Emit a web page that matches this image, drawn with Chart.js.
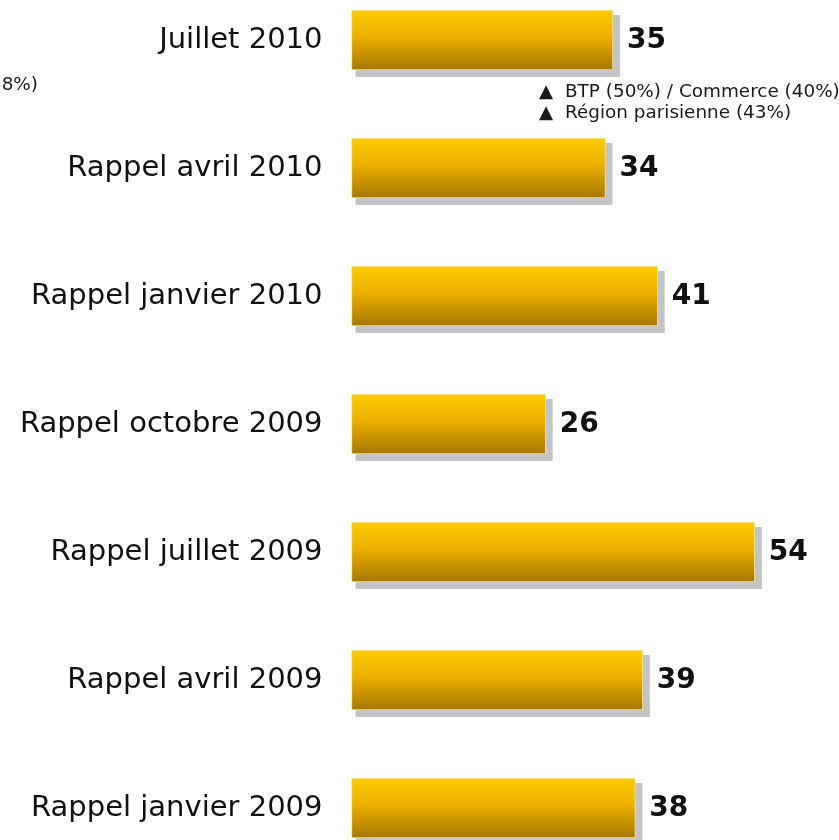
<!DOCTYPE html>
<html>
<head>
<meta charset="utf-8">
<script src="https://cdn.jsdelivr.net/npm/chart.js@4/dist/chart.umd.min.js"></script>
<style>
  body { margin: 0; background: #fff; }
  #wrap { width: 839px; height: 840px; }
</style>
</head>
<body>
<div id="wrap"><canvas id="myChart" width="839" height="840"></canvas></div>
<script>
const categories = [
    'Juillet 2010',
    'Rappel avril 2010',
    'Rappel janvier 2010',
    'Rappel octobre 2009',
    'Rappel juillet 2009',
    'Rappel avril 2009',
    'Rappel janvier 2009'
];
const values = [35, 34, 41, 26, 54, 39, 38];
const notesRight = ['BTP (50%) / Commerce (40%)', 'Région parisienne (43%)'];
const noteLeft = '(38%)';

const FONT = "'DejaVu Sans', Verdana, sans-serif";

// grey drop shadow behind each bar
const shadowPlugin = {
    id: 'barShadow',
    beforeDatasetsDraw(chart) {
        const ctx = chart.ctx;
        const meta = chart.getDatasetMeta(0);
        ctx.save();
        ctx.fillStyle = '#c4c4c4';
        meta.data.forEach((el) => {
            const p = el.getProps(['x', 'y', 'base', 'height'], true);
            ctx.fillRect(p.base + 4, p.y - p.height / 2 + 5, p.x - p.base + 3, p.height + 2);
        });
        ctx.restore();
    }
};

// value at the end of each bar + side notes
const labelPlugin = {
    id: 'valueLabels',
    afterDatasetsDraw(chart) {
        const ctx = chart.ctx;
        const meta = chart.getDatasetMeta(0);
        ctx.save();
        ctx.fillStyle = '#111';
        ctx.font = 'bold 28px ' + FONT;
        ctx.textAlign = 'left';
        ctx.textBaseline = 'middle';
        meta.data.forEach((el, i) => {
            ctx.fillText(values[i], el.x + 14, el.y + 1);
        });

        ctx.font = '18.4px ' + FONT;
        ctx.fillStyle = '#1a1a1a';
        notesRight.forEach((t, i) => {
            const y = 92 + i * 21;
            ctx.fillText('\u25B2', 539, y);
            ctx.fillText(t, 565, y);
        });
        ctx.textAlign = 'right';
        ctx.fillText(noteLeft, 38, 85);
        ctx.restore();
    }
};

function barGradient(context) {
    const chart = context.chart;
    const yScale = chart.scales.y;
    const cy = yScale ? yScale.getPixelForValue(context.dataIndex) : NaN;
    if (!isFinite(cy)) return '#e8a800';
    const g = chart.ctx.createLinearGradient(0, cy - 30, 0, cy + 30);
    g.addColorStop(0, '#fdcb00');
    g.addColorStop(0.45, '#ecb000');
    g.addColorStop(1, '#a57600');
    return g;
}

new Chart(document.getElementById('myChart'), {
    type: 'bar',
    data: {
        labels: categories,
        datasets: [{
            data: values,
            backgroundColor: barGradient,
            borderColor: '#f6e39a',
            borderWidth: 1,
            borderSkipped: false,
            barThickness: 60,
            clip: false
        }]
    },
    options: {
        indexAxis: 'y',
        responsive: false,
        animation: false,
        layout: {
            padding: { top: 40, bottom: 32, left: 0, right: 2 }
        },
        scales: {
            x: {
                display: false,
                min: 0,
                max: 65
            },
            y: {
                offset: false,
                border: { display: false },
                grid: { display: false, drawTicks: false },
                ticks: {
                    autoSkip: false,
                    padding: 29,
                    color: '#111',
                    font: { family: FONT, size: 29 }
                },
                afterFit(scale) {
                    scale.width = 351.5;
                    scale.paddingTop = 0;
                    scale.paddingBottom = 0;
                }
            }
        },
        plugins: {
            legend: { display: false },
            tooltip: { enabled: false }
        }
    },
    plugins: [shadowPlugin, labelPlugin]
});
</script>
</body>
</html>
